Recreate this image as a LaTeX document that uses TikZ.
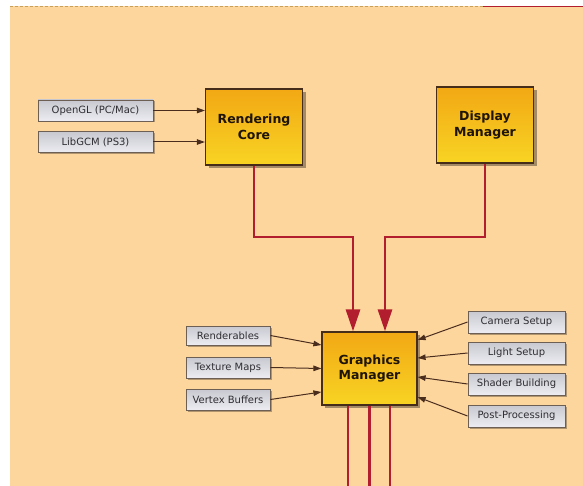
\documentclass[tikz,border=0pt]{standalone}
\usepackage{fontspec}
\setmainfont{DejaVu Sans}
\usetikzlibrary{arrows.meta,shadows}
\definecolor{bg}{RGB}{253,214,158}
\definecolor{dashcol}{RGB}{200,160,90}
\definecolor{redcol}{RGB}{178,30,45}
\definecolor{boxborder}{RGB}{70,45,25}
\definecolor{orangetop}{RGB}{242,168,20}
\definecolor{yellowbot}{RGB}{248,212,36}
\definecolor{greyborder}{RGB}{110,95,85}
\definecolor{greytop}{RGB}{200,200,208}
\definecolor{greybot}{RGB}{236,236,242}
\definecolor{textgrey}{RGB}{45,45,50}
\definecolor{arrowbrown}{RGB}{75,45,30}
\definecolor{maintext}{RGB}{30,20,8}
\tikzset{
  mainbox/.style={draw=boxborder, line width=1.2pt, top color=orangetop, bottom color=yellowbot,
    minimum width=97pt, minimum height=76pt, inner sep=0pt, align=center, text=maintext,
    font=\bfseries\fontsize{12.5}{15.5}\selectfont,
    drop shadow={shadow xshift=3pt, shadow yshift=-3pt, fill=black, opacity=0.35}},
  greybox/.style={draw=greyborder, line width=0.9pt, top color=greytop, bottom color=greybot,
    minimum height=21pt, inner sep=0pt, text=textgrey,
    font=\fontsize{10}{12}\selectfont,
    drop shadow={shadow xshift=1.5pt, shadow yshift=-1.5pt, fill=black, opacity=0.3}},
  smallarrow/.style={draw=arrowbrown, line width=1pt, -{Triangle[length=8pt,width=5.5pt]}},
  redarrow/.style={draw=redcol, line width=2.8pt, miter limit=10, -{Triangle[length=22pt,width=14pt]}},
  redline/.style={draw=redcol, line width=2.8pt}
}
\begin{document}
\begin{tikzpicture}[x=1pt,y=-1pt]
\useasboundingbox (0,0) rectangle (583,486);
\fill[bg] (10,6) rectangle (583,486);
\draw[dashcol, line width=1.4pt, dash pattern=on 3pt off 2pt] (10,6.5) -- (483,6.5);
\draw[redcol, line width=1.5pt] (483,6.5) -- (583,6.5);

% main boxes
\node[mainbox] (rc) at (254,127) {Rendering\\Core};
\node[mainbox] (dm) at (485,125) {Display\\Manager};
\node[mainbox, minimum width=95pt, minimum height=73pt] (gm) at (369.5,368.5) {Graphics\\Manager};

% input boxes for rendering core
\node[greybox, minimum width=115pt] (ogl) at (95.5,110.5) {OpenGL (PC/Mac)};
\node[greybox, minimum width=115pt] (gcm) at (95.5,142) {LibGCM (PS3)};

% left boxes
\node[greybox, minimum width=84pt, minimum height=19pt] (ren) at (228,335.5) {Renderables};
\node[greybox, minimum width=84pt] (tex) at (228,367.5) {Texture Maps};
\node[greybox, minimum width=84pt] (vb) at (228,399.5) {Vertex Buffers};

% right boxes
\node[greybox, minimum width=97pt, minimum height=22pt] (cam) at (516.5,322) {Camera Setup};
\node[greybox, minimum width=97pt, minimum height=22pt] (lig) at (516.5,353) {Light Setup};
\node[greybox, minimum width=97pt, minimum height=22pt] (sha) at (516.5,384) {Shader Building};
\node[greybox, minimum width=97pt, minimum height=22pt] (pp) at (516.5,416) {Post-Processing};

% small arrows
\draw[smallarrow] (ogl.east) -- (ogl.east -| rc.west);
\draw[smallarrow] (gcm.east) -- (gcm.east -| rc.west);
\draw[smallarrow] (ren.east) -- ([yshift=23.5pt]gm.west);
\draw[smallarrow] (tex.east) -- (gm.west);
\draw[smallarrow] (vb.east) -- ([yshift=-23.5pt]gm.west);
\draw[smallarrow] (cam.west) -- ([yshift=28.5pt]gm.east);
\draw[smallarrow] (lig.west) -- ([yshift=10.5pt]gm.east);
\draw[smallarrow] (sha.west) -- ([yshift=-8.5pt]gm.east);
\draw[smallarrow] (pp.west) -- ([yshift=-28.5pt]gm.east);

% red connectors
\coordinate (bend) at (0,237);
\coordinate (bottom) at (0,486);
\draw[redarrow] (rc.south) -- (rc.south |- bend) -- ([xshift=-16.5pt]gm.north |- bend) -- ([xshift=-16.5pt]gm.north);
\draw[redarrow] (dm.south) -- (dm.south |- bend) -- ([xshift=15.5pt]gm.north |- bend) -- ([xshift=15.5pt]gm.north);
\draw[redline] ([xshift=-21.5pt]gm.south) -- ([xshift=-21.5pt]gm.south |- bottom);
\draw[redline] (gm.south) -- (gm.south |- bottom);
\draw[redline] ([xshift=20.5pt]gm.south) -- ([xshift=20.5pt]gm.south |- bottom);
\end{tikzpicture}
\end{document}
